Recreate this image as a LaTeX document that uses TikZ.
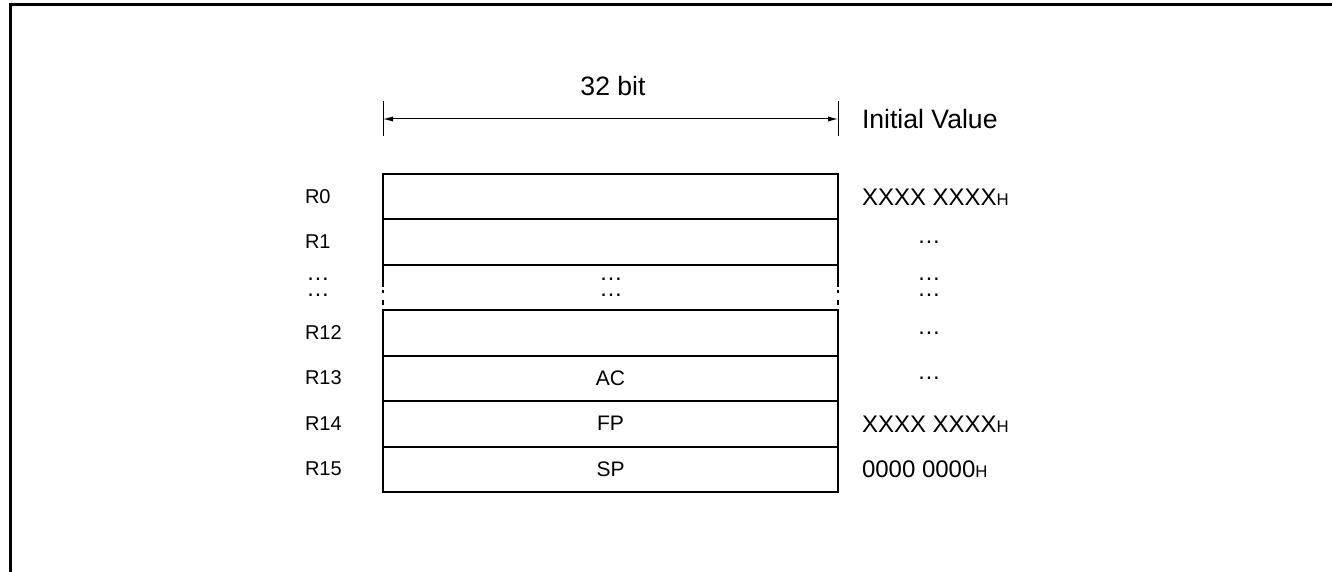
\documentclass[tikz,border=0pt]{standalone}
\usepackage{fontspec}
\setmainfont{Liberation Sans}
\usetikzlibrary{positioning,arrows.meta}

\begin{document}
\begin{tikzpicture}[x=0.5pt,y=-0.5pt,
      every node/.style={inner sep=0pt,outer sep=0pt},
      reg/.style={draw,line width=1pt,minimum width=227.5pt,minimum height=22.75pt,anchor=north west,font=\fontsize{10.5}{12}\selectfont},
      rname/.style={anchor=west,font=\fontsize{10}{12}\selectfont},
      ival/.style={anchor=west,font=\fontsize{12}{14}\selectfont},
      vdots/.style={font=\fontsize{11.7}{14}\selectfont},
      twodots/.style={align=center,font=\fontsize{11.7}{8}\selectfont},
      toplbl/.style={font=\fontsize{13.3}{16}\selectfont}]
    \useasboundingbox (0,0) rectangle (1332,572);
    % outer frame (open to the right and bottom)
    \draw[line width=1.5pt] (10,572) -- (10,5) -- (1332,5);
    % width dimension
    \coordinate (tl) at (383,119);
    \coordinate (tr) at (838,119);
    \draw[line width=0.5pt] (383,101) -- (383,136);
    \draw[line width=0.5pt] (838,101) -- (838,136);
    \draw[{Latex[length=5pt,width=2.6pt]}-{Latex[length=5pt,width=2.6pt]},line width=0.5pt] (tl) -- (tr);
    \node[toplbl] (width) at (613,86) {32 bit};
    \node[toplbl,anchor=west] (init) at (862,119) {Initial Value};
    % register rows
    \node[reg] (r0) at (383,174) {};
    \node[reg] (r1) at (383,219.5) {};
    \node[reg] (r12) at (383,310) {};
    \node[reg] (r13) at (383,355.5) {AC};
    \node[reg] (r14) at (383,401) {FP};
    \node[reg] (r15) at (383,446.5) {SP};
    % broken part between R1 and R12
    \draw[line width=1pt] (r1.south west) -- ++(0,22) (r1.south east) -- ++(0,22);
    \foreach \x in {383,838} {
      \draw[line width=1pt] (\x,290) -- (\x,293) (\x,300) -- (\x,305);
    }
    \node[twodots] (mid) at (611,287) {…\\…};
    % register names
    \node[rname] (n0) at (305,197) {R0};
    \node[rname] (n1) at (305,242) {R1};
    \node[twodots] (nd) at (318,287) {…\\…};
    \node[rname] (n12) at (305,333) {R12};
    \node[rname] (n13) at (305,378) {R13};
    \node[rname] (n14) at (305,424) {R14};
    \node[rname] (n15) at (305,469) {R15};
    % initial values
    \node[ival] (v0) at (862,197) {XXXX XXXX{\fontsize{8.4}{10}\selectfont H}};
    \node[vdots] (v1) at (929,242) {…};
    \node[twodots] (vd) at (929,287) {…\\…};
    \node[vdots] (v12) at (929,333) {…};
    \node[vdots] (v13) at (929,378) {…};
    \node[ival] (v14) at (862,424) {XXXX XXXX{\fontsize{8.4}{10}\selectfont H}};
    \node[ival] (v15) at (862,469) {0000 0000{\fontsize{8.4}{10}\selectfont H}};
  \end{tikzpicture}
\end{document}
